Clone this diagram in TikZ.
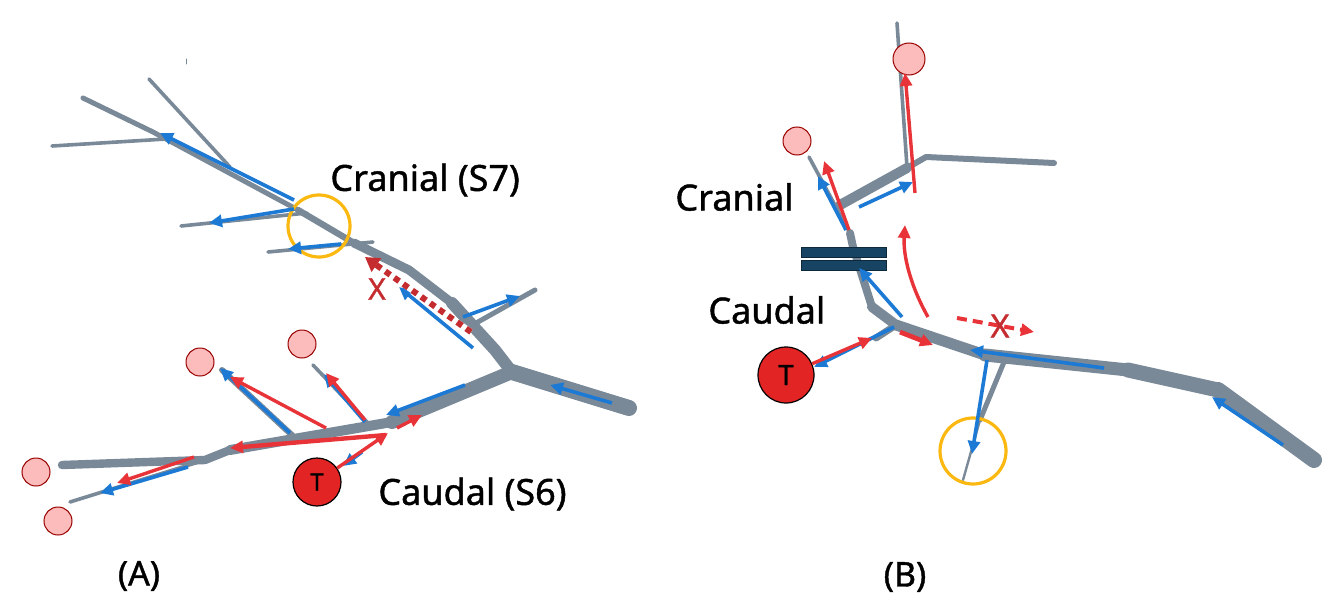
\documentclass[tikz,border=0pt]{standalone}
\usepackage{fontspec}
\setmainfont{Noto Sans}
\newfontfamily\lblfont[FakeBold=1.2]{Noto Sans}
\usetikzlibrary{arrows.meta}
\definecolor{vesselgray}{RGB}{122,137,152}
\definecolor{flowblue}{RGB}{28,121,212}
\definecolor{flowred}{RGB}{232,52,56}
\definecolor{ringyellow}{RGB}{250,184,16}
\definecolor{barblue}{RGB}{22,68,98}
\tikzstyle{vessel}=[draw=vesselgray, line cap=round, line join=round]
\tikzstyle{blueflow}=[draw=flowblue, line width=1.8pt, -{Triangle[length=6.5pt,width=6pt]}]
\tikzstyle{redflow}=[draw=flowred, line width=1.7pt, -{Triangle[length=6.5pt,width=6pt]}]
\tikzstyle{pinkball}=[circle, draw=red!60!black, fill={rgb,255:red,252;green,188;blue,188}, line width=0.5pt, minimum size=14pt, inner sep=0pt]
\tikzstyle{tumour}=[circle, draw=black, fill={rgb,255:red,226;green,36;blue,36}, line width=0.6pt, minimum size=24pt, inner sep=0pt, font=\lblfont\fontsize{12}{12}\selectfont]
\tikzstyle{ring}=[circle, draw=ringyellow, line width=1.6pt, minimum size=31pt, inner sep=0pt]
\tikzstyle{lbl}=[anchor=west, inner sep=0pt, font=\lblfont\fontsize{18}{20}\selectfont]
\tikzstyle{panel}=[inner sep=0pt, font=\lblfont\fontsize{17}{20}\selectfont]
\tikzstyle{cross}=[inner sep=0pt, text=flowred!85!black, font=\lblfont\fontsize{15}{15}\selectfont]

\begin{document}
\begin{tikzpicture}[x=0.5pt, y=-0.5pt]
    \useasboundingbox (0,0) rectangle (1331,610);

    % ---- panel A: vessels
    \draw[vessel, line width=0.5pt] (186,59) -- (186,64);
    \draw[vessel, line width=8pt] (629,408) -- (512,372);
    \draw[vessel, line width=6pt] (512,372) -- (495,350) -- (452,303);
    \draw[vessel, line width=4.5pt] (452,303) -- (409,270) -- (354,243);
    \draw[vessel, line width=3.2pt] (354,243) -- (298,210);
    \draw[vessel, line width=2.5pt] (298,210) -- (153,132) -- (83,98);
    \draw[vessel, line width=1.8pt] (149,79) -- (230,167);
    \draw[vessel, line width=1.8pt] (52,146) -- (166,139);
    \draw[vessel, line width=1.8pt] (181,226) -- (307,213);
    \draw[vessel, line width=1.8pt] (268,252) -- (373,242);
    \draw[vessel, line width=2.5pt] (535,290) -- (469,327);
    \draw[vessel, line width=7pt] (512,372) -- (392,422);
    \draw[vessel, line width=5pt] (392,422) -- (230,450);
    \draw[vessel, line width=4.2pt] (230,450) -- (205,460) -- (62,465);
    \draw[vessel, line width=1.8pt] (205,460) -- (70,502);
    \draw[vessel, line width=3pt] (294,437) -- (222,370);
    \draw[vessel, line width=1.8pt] (367,422) -- (313,365);

    % ---- panel A: ends and markers
    \node[pinkball] (A1) at (200,362) {};
    \node[pinkball] (A2) at (302,344) {};
    \node[pinkball] (A3) at (36,472) {};
    \node[pinkball] (A4) at (58,521) {};
    \node[tumour] (TA) at (317,482) {T};
    \node[ring] (RA) at (319,226) {};

    % ---- panel A: blue flow
    \draw[blueflow] (294,200) -- (160,133);
    \draw[blueflow] (294,209) -- (209,223);
    \draw[blueflow] (341,244) -- (288,249);
    \draw[blueflow] (473,348) -- (399,287);
    \draw[blueflow] (463,317) -- (520,296);
    \draw[blueflow] (612,403) -- (550,385);
    \draw[blueflow] (465,385) -- (386,415);
    \draw[blueflow] (290,433) -- (220,368);
    \draw[blueflow] (365,422) -- (324,374);
    \draw[blueflow] (362,452) -- (343,466);
    \draw[blueflow] (188,467) -- (100,493);

    % ---- panel A: red flow
    \draw[redflow] (TA) -- (388,433);
    \draw[redflow] (397,428) -- (422,415);
    \draw[redflow, line width=2.2pt] (386,435) -- (230,448);
    \draw[redflow] (326,428) -- (230,377);
    \draw[redflow] (365,420) -- (326,373);
    \draw[redflow] (194,457) -- (117,483);
    \draw[white, line width=3pt] (471,332) -- (378,266);
    \draw[draw=flowred!85!black, line width=3pt, dash pattern=on 3pt off 2.5pt,
        -{Triangle[length=7pt,width=8pt]}] (471,332) -- (365,257);
    \node[cross] (XA) at (377,289) {X};

    % ---- panel A: labels
    \node[lbl] (cranA) at (330,180) {Cranial (S7)};
    \node[lbl] (caudA) at (378,494) {Caudal (S6)};
    \node[panel] (labA) at (139,576) {(A)};

    % ---- panel B: vessels
    \draw[vessel, line width=1.8pt] (897,23) -- (907,167);
    \draw[vessel, line width=5pt] (840,205) -- (907,168);
    \draw[vessel, line width=3pt] (907,168) -- (926,157) -- (1054,163);
    \draw[vessel, line width=1.8pt] (809,157) -- (850,233);
    \draw[vessel, line width=4pt] (850,233) -- (853,247) -- (872,307);
    \draw[vessel, line width=5pt] (872,307) -- (896,325);
    \draw[vessel, line width=3.5pt] (896,325) -- (876,338);
    \draw[vessel, line width=5.5pt] (896,325) -- (985,355);
    \draw[vessel, line width=6.5pt] (985,355) -- (1128,370);
    \draw[vessel, line width=7.5pt] (1128,370) -- (1218,390);
    \draw[vessel, line width=8pt] (1218,390) -- (1314,460);
    \draw[vessel, line width=2.5pt] (1004,362) -- (980,420);
    \draw[vessel, line width=1.2pt] (980,420) -- (963,480);

    % ---- panel B: ends and markers
    \node[pinkball, minimum size=16pt] (B1) at (909,59) {};
    \node[pinkball] (B2) at (797,141) {};
    \node[tumour, minimum size=28pt, font=\lblfont\fontsize{14}{14}\selectfont] (TB) at (786,375) {T};
    \node[ring, minimum size=33pt] (RB) at (973,451) {};
    \filldraw[fill=barblue, draw=barblue!60!black, line width=0.5pt] (801,247) rectangle (886,257);
    \filldraw[fill=barblue, draw=barblue!60!black, line width=0.5pt] (801,260) rectangle (886,270);

    % ---- panel B: blue flow
    \draw[blueflow] (859,207) -- (913,182);
    \draw[blueflow] (846,230) -- (818,176);
    \draw[blueflow] (902,317) -- (859,268);
    \draw[blueflow] (894,327) -- (814,367);
    \draw[blueflow] (1104,368) -- (970,350);
    \draw[blueflow] (987,360) -- (972,454);
    \draw[blueflow] (1283,445) -- (1212,397);

    % ---- panel B: red flow
    \draw[redflow] (915,193) -- (905,73);
    \draw[redflow] (849,230) -- (824,161);
    \draw[redflow] (928,317) .. controls (910,285) and (903,255) .. (905,225);
    \draw[redflow] (TB) -- (872,338);
    \draw[redflow, line width=2.4pt] (900,332) -- (933,345);
    \draw[redflow, line width=2pt, dash pattern=on 5pt off 3pt] (957,318) -- (1034,332);
    \node[cross, font=\lblfont\fontsize{16}{16}\selectfont] (XB) at (1000,326) {X};

    % ---- panel B: labels
    \node[lbl] (cranB) at (675,197) {Cranial};
    \node[lbl] (caudB) at (708,310) {Caudal};
    \node[panel] (labB) at (905,577) {(B)};
\end{tikzpicture}
\end{document}
